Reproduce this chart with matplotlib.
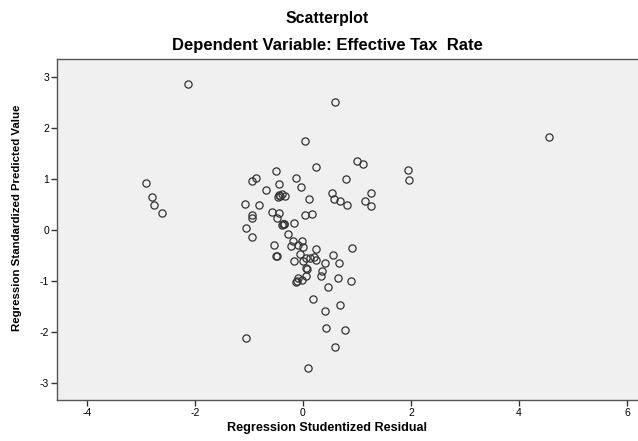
import matplotlib.pyplot as plt

# values
residual = [-2.12, -2.90, -2.80, -2.75, -2.61, 4.56, 1.95, 1.97, 0.60, 0.04,
            0.24, 1.00, 1.12, -0.50, -0.87, -0.94, -0.13, 0.79, -0.45, -0.04,
            -0.69, -0.44, -0.39, -0.46, -0.33, 0.11, 0.54, 0.57, 0.69, 0.81,
            1.14, 1.26, 1.26, -1.07, -0.82, -0.95, -0.95, -0.58, -0.44, -0.48,
            0.04, 0.16, -1.06, -0.37, -0.39, -0.35, -0.17, -0.95, -0.28, -0.53,
            -0.18, -0.01, -0.22, -0.09, 0.01, 0.25, 0.90, -0.50, -0.48, 0.55,
            -0.06, -0.16, 0.00, 0.06, 0.13, 0.20, 0.25, 0.41, 0.66, 0.06,
            0.08, 0.35, 0.34, 0.64, 0.89, -0.09, -0.12, -0.11, -0.01, 0.05,
            0.47, 0.19, 0.68, 0.41, 0.43, 0.77, -1.05, 0.60, 0.10, -0.42,
            -0.36]
predicted = [2.87, 0.92, 0.65, 0.50, 0.33, 1.83, 1.17, 0.99, 2.50, 1.74,
             1.24, 1.36, 1.30, 1.15, 1.02, 0.97, 1.02, 1.01, 0.91, 0.84,
             0.78, 0.68, 0.70, 0.64, 0.67, 0.61, 0.72, 0.61, 0.57, 0.50,
             0.56, 0.72, 0.48, 0.51, 0.49, 0.29, 0.23, 0.36, 0.34, 0.24,
             0.29, 0.31, 0.04, 0.11, 0.10, 0.12, 0.13, -0.14, -0.07, -0.29,
             -0.21, -0.22, -0.31, -0.29, -0.34, -0.37, -0.36, -0.50, -0.51, -0.48,
             -0.46, -0.60, -0.60, -0.54, -0.55, -0.53, -0.59, -0.65, -0.65, -0.74,
             -0.76, -0.80, -0.90, -0.94, -1.00, -0.94, -1.02, -1.00, -0.98, -0.91,
             -1.11, -1.36, -1.46, -1.59, -1.91, -1.95, -2.12, -2.30, -2.71, 0.66,
             0.12]

xticks = [-4, -2, 0, 2, 4, 6]
yticks = [-3, -2, -1, 0, 1, 2, 3]

plt.rcParams['font.family'] = ['Liberation Sans', 'DejaVu Sans']
plt.rcParams['axes.unicode_minus'] = False

fig = plt.figure(figsize=(6.38, 4.41), dpi=100)
ax = fig.add_axes([0.0889, 0.093, 0.92, 0.773])
ax.set_facecolor('#f0f0f0')

ax.plot(residual, predicted, linestyle='none', marker='o', markersize=5.2,
        markerfacecolor='none', markeredgecolor='#333333', markeredgewidth=0.9)

ax.set_xlim(-4.56, 6.31)
ax.set_ylim(-3.33, 3.35)
ax.set_xticks(xticks)
ax.set_yticks(yticks)
ax.tick_params(direction='out', length=4, width=1, labelsize=7.5, color='#333333', pad=1.5)

for side in ['left', 'bottom', 'top']:
    ax.spines[side].set_color('#555555')
    ax.spines[side].set_linewidth(1)
ax.spines['right'].set_visible(False)

fig.text(0.513, 0.959, 'Scatterplot', ha='center', va='center',
         fontsize=11.4, fontweight='bold')
fig.text(0.513, 0.896, 'Dependent Variable: Effective Tax  Rate', ha='center', va='center',
         fontsize=12, fontweight='bold')
fig.text(0.513, 0.029, 'Regression Studentized Residual', ha='center', va='center',
         fontsize=9.1, fontweight='bold')
fig.text(0.027, 0.505, 'Regression Standardized Predicted Value', ha='center', va='center',
         rotation=90, fontsize=8.2, fontweight='bold')

fig.savefig('out.png', dpi=100)
